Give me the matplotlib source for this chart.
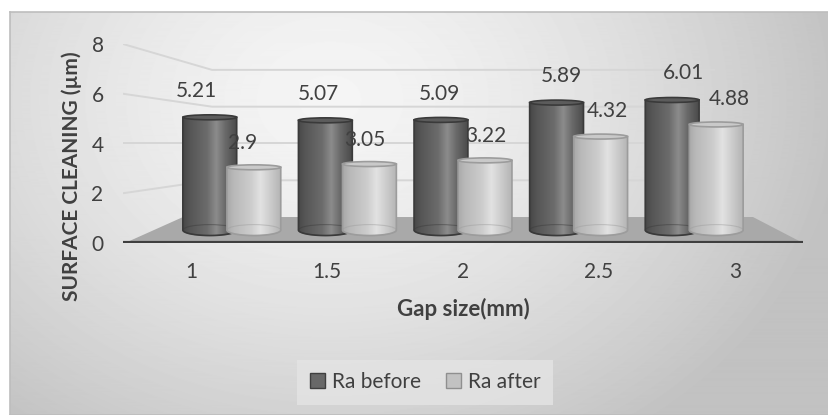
import numpy as np
import matplotlib
matplotlib.use("Agg")
import matplotlib.pyplot as plt
from matplotlib.patches import Ellipse, Polygon, PathPatch, Patch
from matplotlib.path import Path

plt.rcParams['font.family'] = ['Lato', 'DejaVu Sans']

gap_sizes = ["1", "1.5", "2", "2.5", "3"]
ra_before = [5.21, 5.07, 5.09, 5.89, 6.01]
ra_after = [2.9, 3.05, 3.22, 4.32, 4.88]
y_ticks = [0, 2, 4, 6, 8]

TXT = '#404040'
FS = 15
W, H = 829, 415

fig = plt.figure(figsize=(W / 100, H / 100), dpi=100)

# chart area background: soft radial grey gradient with a thin border
bg = fig.add_axes([10 / W, 0, (W - 10) / W, (H - 12) / H])
yy, xx = np.mgrid[0:403, 0:819]
r = np.hypot((xx - 320) / 480, (yy - 88) / 380)
shade = np.clip(0.96 - 0.18 * r ** 1.5, 0.76, 1)
bg.imshow(shade, cmap='gray', vmin=0, vmax=1, aspect='auto',
          extent=[0, 1, 0, 1], origin='upper')
bg.set_xlim(0, 1)
bg.set_ylim(0, 1)
bg.set_xticks([])
bg.set_yticks([])
for s in bg.spines.values():
    s.set_color('#bdbdbd')
    s.set_linewidth(1.2)

ax = fig.add_axes([123 / W, (H - 243) / H, 680 / W, 199 / H])
ax.patch.set_alpha(0)


def px_x(p):
    return (p - 463) / 136 + 2


def px_y(p):
    return (243 - p) / 24.9


# back wall / side wall gridlines
x_side, x_bend, x_end = -0.5, px_x(212), px_x(715)
for v in y_ticks[1:]:
    vb = 4 + (v - 4) * 0.74
    ax.plot([x_side, x_bend, x_end], [v, vb, vb], color='#d6d6d6', lw=1.4,
            zorder=1, solid_capstyle='butt')

# floor
floor = Polygon([(px_x(125), 0), (px_x(183), px_y(217)),
                 (px_x(753), px_y(217)), (px_x(803), 0)],
                closed=True, facecolor='#a9a9a9', edgecolor='none', zorder=2)
ax.add_patch(floor)
ax.plot([-0.5, 4.5], [0, 0], color='#3f3f3f', lw=3, zorder=3,
        solid_capstyle='butt')

dark_stops = ([0, 0.12, 0.45, 0.62, 0.78, 1],
              ['#474747', '#555555', '#6c6c6c', '#8c8c8c', '#6a6a6a', '#4a4a4a'])
light_stops = ([0, 0.12, 0.45, 0.62, 0.78, 1],
               ['#a9a9a9', '#b8b8b8', '#cdcdcd', '#e2e2e2', '#cfcfcf', '#b4b4b4'])


def ramp(stops, n=200):
    pos, cols = stops
    rgb = np.array([matplotlib.colors.to_rgb(c) for c in cols])
    t = np.linspace(0, 1, n)
    img = np.stack([np.interp(t, pos, rgb[:, k]) for k in range(3)], axis=-1)
    return img[np.newaxis, :, :]


def cylinder(cx, value, stops, top_col, edge, z):
    hw = 0.198
    yb = 0.52
    yt = 0.52 + 0.87 * value
    ab = 0.22
    at = 0.1
    th = np.linspace(np.pi, 2 * np.pi, 40)
    verts = [(cx + hw * np.cos(t), yb + ab * np.sin(t)) for t in th]
    verts += [(cx + hw, yt), (cx - hw, yt), verts[0]]
    codes = [Path.MOVETO] + [Path.LINETO] * (len(verts) - 2) + [Path.CLOSEPOLY]
    body = PathPatch(Path(verts, codes), facecolor='none', edgecolor=edge,
                     lw=1.2, zorder=z + 0.2)
    ax.add_patch(body)
    im = ax.imshow(ramp(stops), aspect='auto', zorder=z,
                   extent=[cx - hw, cx + hw, yb - ab, yt], interpolation='bilinear')
    im.set_clip_path(body)
    ax.add_patch(Ellipse((cx, yb), 2 * hw, 2 * ab, facecolor='none',
                         edgecolor=edge, lw=0.8, alpha=0.45, zorder=z + 0.1))
    ax.add_patch(Ellipse((cx, yt), 2 * hw, 2 * at, facecolor=top_col,
                         edgecolor=edge, lw=1.2, zorder=z + 0.3))


for i in range(len(gap_sizes)):
    gc = 2 + (i - 2) * 0.85
    cylinder(gc - 0.162, ra_before[i], dark_stops, '#5c5c5c', '#3a3a3a', 4 + i)
    cylinder(gc + 0.162, ra_after[i], light_stops, '#c9c9c9', '#9c9c9c', 4.5 + i)
    lc = 2 + (i - 2) * 0.895
    ax.text(lc - 0.17, 1.39 + 0.904 * ra_before[i], f"{ra_before[i]:g}",
            ha='center', va='center', fontsize=FS, color=TXT, zorder=20)
    ax.text(lc + 0.17, 1.39 + 0.904 * ra_after[i], f"{ra_after[i]:g}",
            ha='center', va='center', fontsize=FS, color=TXT, zorder=20)

ax.set_xlim(-0.5, 4.5)
ax.set_ylim(0, 8)
ax.set_xticks(range(len(gap_sizes)))
ax.set_xticklabels(gap_sizes)
ax.set_yticks(y_ticks)
ax.tick_params(length=0, labelsize=FS, labelcolor=TXT)
ax.tick_params(axis='x', pad=14)
ax.tick_params(axis='y', pad=14)
for s in ax.spines.values():
    s.set_visible(False)

fig.text(72 / W, 1 - 176 / H, "SURFACE CLEANING (µm)", rotation=90,
         ha='center', va='center', fontsize=FS, fontweight='bold', color=TXT)
fig.text(463 / W, 1 - 309 / H, "Gap size(mm)", ha='center', va='center',
         fontsize=16, fontweight='bold', color=TXT)

handles = [Patch(facecolor='#686868', edgecolor='#3f3f3f', label='Ra before'),
           Patch(facecolor='#c2c2c2', edgecolor='#8f8f8f', label='Ra after')]
leg = fig.legend(handles=handles, loc='center', bbox_to_anchor=(425 / W, 1 - 382 / H),
                 ncol=2, fontsize=FS, frameon=True, fancybox=False,
                 handlelength=0.75, handleheight=0.75, handletextpad=0.3,
                 columnspacing=1.2, borderpad=0.6, labelcolor=TXT)
leg.get_frame().set_facecolor('#e4e4e4')
leg.get_frame().set_edgecolor('none')

fig.savefig("out.png", dpi=100)
